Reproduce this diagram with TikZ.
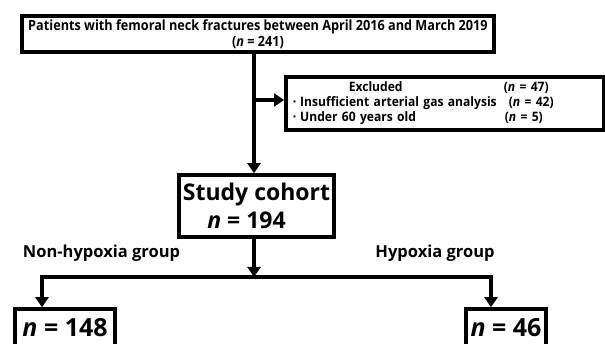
\documentclass[tikz,border=0pt]{standalone}
\usepackage{fontspec}
\setmainfont{Open Sans}
\newfontfamily\condfont[FakeStretch=0.9]{Open Sans}
\newfontfamily\exclfont[FakeStretch=0.93]{Open Sans}
\usetikzlibrary{arrows.meta,calc}
\begin{document}
\begin{tikzpicture}[x=1pt,y=-1pt,
  box/.style={draw=black, line width=3.6pt, fill=white, inner sep=0pt, font=\bfseries},
  conn/.style={line width=3.4pt, draw=black},
  arr/.style={conn, -{Triangle[length=10pt,width=13pt]}},
  lbl/.style={inner sep=0pt, font=\bfseries}]
\useasboundingbox[fill=white] (0,0) rectangle (605,344);
% boxes
\node[box, minimum width=472pt, minimum height=36pt, align=center,
      font=\condfont\bfseries\fontsize{14.1}{16}\selectfont] (top) at (258,34)
  {Patients with femoral neck fractures between April 2016 and March 2019\\(\textit{n} = 241)};
\node[box, minimum width=318pt, minimum height=53pt, text width=318pt, anchor=west,
      font=\exclfont\bfseries\fontsize{13}{15}\selectfont] (excl) at (284,103.5)
  {\hspace*{7pt}\begin{tabular}{@{}l@{}l@{}}
   \makebox[211pt][l]{\hspace{56pt}Excluded} & (\textit{n} = 47)\\
   \makebox[211pt][l]{·\hspace{4pt}Insufficient arterial gas analysis} & \hspace*{5pt}(\textit{n} = 42)\\
   \makebox[211pt][l]{·\hspace{4pt}Under 60 years old} & \hspace*{1pt}(\textit{n} = 5)
   \end{tabular}};
\node[box, minimum width=155pt, minimum height=62pt, align=center,
      font=\bfseries\fontsize{23}{28}\selectfont] (study) at (256.5,206)
  {Study cohort\\\textit{n} = 194\hspace*{20pt}};
\node[box, minimum width=100pt, minimum height=38pt,
      font=\bfseries\fontsize{25}{28}\selectfont] (n148) at (65,328)
  {\textit{n} = 148};
\node[box, minimum width=80pt, minimum height=38pt,
      font=\bfseries\fontsize{25}{28}\selectfont] (n46) at (506,328)
  {\textit{n} = 46};
% labels
\node[lbl, font=\bfseries\fontsize{16.5}{20}\selectfont] (nonhyp) at (101.5,253) {Non-hypoxia group};
\node[lbl, font=\bfseries\fontsize{16.5}{20}\selectfont] (hyp) at (435,253) {Hypoxia group};
% connectors
\coordinate (trunk) at (254,100);
\coordinate (split) at (254,277);
\coordinate (lturn) at (42,277);
\coordinate (rturn) at (491,277);
\draw[arr] (top.south -| trunk) -- (trunk |- study.north);
\draw[arr] (trunk) -- (trunk -| excl.west);
\draw[arr] (study.south -| split) -- (split);
\draw[arr] (split) -- (lturn) -- (lturn |- n148.north);
\draw[arr] (split) -- (rturn) -- (rturn |- n46.north);
\end{tikzpicture}
\end{document}
